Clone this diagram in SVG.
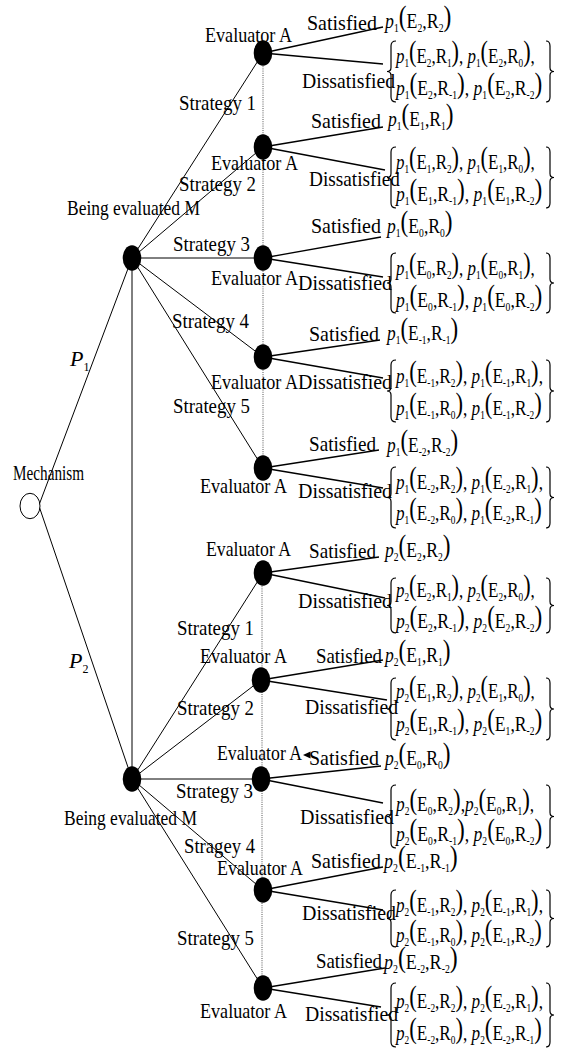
<svg xmlns="http://www.w3.org/2000/svg" width="567" height="1050" viewBox="0 0 567 1050">
<style>
  .lbl { font-family: "Liberation Serif", "Times New Roman", serif; font-size: 21px; fill: #000; }
  .f { font-family: "Liberation Serif", "Times New Roman", serif; font-size: 22px; fill: #000; }
  .v { font-style: italic; }
  .sb { font-size: 12px; }
  .pr { font-size: 29px; baseline-shift: 2px; }
  .edge { stroke: #000; stroke-width: 1.3; fill: none; }
  .strat { stroke: #000; stroke-width: 1; fill: none; }
  .info { stroke: #555; stroke-width: 1; stroke-dasharray: 1 1.2; fill: none; }
  .dot { fill: #000; }
  .chance { fill: #fff; stroke: #000; stroke-width: 1; }
  .brace { fill: none; stroke: #000; stroke-width: 1.2; }
</style>

<!-- connectors: chance branches, strategy branches, information sets, outcome branches -->
<g id="connectors">
  <line class="strat" x1="39" y1="505" x2="132" y2="258"/>
  <line class="strat" x1="39" y1="506" x2="132" y2="779"/>
  <line class="strat" x1="132" y1="258" x2="132" y2="779"/>

  <line class="strat" x1="132" y1="258" x2="263" y2="53"/>
  <line class="strat" x1="132" y1="258" x2="263" y2="147"/>
  <line class="strat" x1="132" y1="258" x2="263" y2="258"/>
  <line class="strat" x1="132" y1="258" x2="263" y2="357"/>
  <line class="strat" x1="132" y1="258" x2="263" y2="468"/>

  <line class="strat" x1="132" y1="779" x2="263" y2="573"/>
  <line class="strat" x1="132" y1="779" x2="261" y2="680"/>
  <line class="strat" x1="132" y1="779" x2="261" y2="779"/>
  <line class="strat" x1="132" y1="779" x2="263" y2="890"/>
  <line class="strat" x1="132" y1="779" x2="263" y2="988"/>

  <line class="info" x1="263" y1="53" x2="263" y2="468"/>
  <line class="info" x1="262" y1="573" x2="262" y2="988"/>

  <line class="edge" x1="263" y1="53" x2="383" y2="27"/>
  <line class="edge" x1="263" y1="53" x2="383" y2="64"/>
  <line class="edge" x1="263" y1="147" x2="383" y2="127"/>
  <line class="edge" x1="263" y1="147" x2="385" y2="170"/>
  <line class="edge" x1="263" y1="258" x2="381" y2="237"/>
  <line class="edge" x1="263" y1="258" x2="383" y2="277"/>
  <line class="edge" x1="263" y1="357" x2="380" y2="340"/>
  <line class="edge" x1="263" y1="357" x2="383" y2="378"/>
  <line class="edge" x1="263" y1="468" x2="379" y2="450"/>
  <line class="edge" x1="263" y1="468" x2="383" y2="488"/>

  <line class="edge" x1="263" y1="573" x2="379" y2="557"/>
  <line class="edge" x1="263" y1="573" x2="385" y2="598"/>
  <line class="edge" x1="261" y1="680" x2="383" y2="660"/>
  <line class="edge" x1="261" y1="680" x2="387" y2="700"/>
  <line class="edge" x1="261" y1="779" x2="381" y2="766"/>
  <line class="edge" x1="261" y1="779" x2="383" y2="803"/>
  <line class="edge" x1="263" y1="890" x2="383" y2="867"/>
  <line class="edge" x1="263" y1="890" x2="383" y2="910"/>
  <line class="edge" x1="263" y1="988" x2="385" y2="968"/>
  <line class="edge" x1="263" y1="988" x2="381" y2="1007"/>

  <polygon points="303,755 310.5,751.5 310.5,758.5" fill="#000"/>
</g>

<!-- branch labels -->
<g id="branch-labels" class="lbl">
  <text class="f" x="70" y="366"><tspan class="v">P</tspan><tspan class="sb" dy="5">1</tspan></text>
  <text class="f" x="69" y="668"><tspan class="v">P</tspan><tspan class="sb" dy="5">2</tspan></text>

  <text x="179" y="110" textLength="77" lengthAdjust="spacingAndGlyphs">Strategy 1</text>
  <text x="179" y="191" textLength="77" lengthAdjust="spacingAndGlyphs">Strategy 2</text>
  <text x="173" y="251" textLength="77" lengthAdjust="spacingAndGlyphs">Strategy 3</text>
  <text x="172" y="328" textLength="77" lengthAdjust="spacingAndGlyphs">Strategy 4</text>
  <text x="173" y="413" textLength="77" lengthAdjust="spacingAndGlyphs">Strategy 5</text>
  <text x="177" y="635" textLength="77" lengthAdjust="spacingAndGlyphs">Strategy 1</text>
  <text x="177" y="715" textLength="77" lengthAdjust="spacingAndGlyphs">Strategy 2</text>
  <text x="176" y="798" textLength="77" lengthAdjust="spacingAndGlyphs">Strategy 3</text>
  <text x="184" y="853" textLength="71" lengthAdjust="spacingAndGlyphs">Stragey 4</text>
  <text x="177" y="945" textLength="77" lengthAdjust="spacingAndGlyphs">Strategy 5</text>

  <text x="307" y="30" textLength="70" lengthAdjust="spacingAndGlyphs">Satisfied</text>
  <text x="302" y="88" textLength="93" lengthAdjust="spacingAndGlyphs">Dissatisfied</text>
  <text x="311" y="128" textLength="70" lengthAdjust="spacingAndGlyphs">Satisfied</text>
  <text x="309" y="186" textLength="91" lengthAdjust="spacingAndGlyphs">Dissatisfied</text>
  <text x="311" y="233" textLength="70" lengthAdjust="spacingAndGlyphs">Satisfied</text>
  <text x="298" y="290" textLength="94" lengthAdjust="spacingAndGlyphs">Dissatisfied</text>
  <text x="309" y="341" textLength="70" lengthAdjust="spacingAndGlyphs">Satisfied</text>
  <text x="298" y="389" textLength="94" lengthAdjust="spacingAndGlyphs">Dissatisfied</text>
  <text x="309" y="451" textLength="67" lengthAdjust="spacingAndGlyphs">Satisfied</text>
  <text x="298" y="498" textLength="94" lengthAdjust="spacingAndGlyphs">Dissatisfied</text>

  <text x="309" y="558" textLength="67" lengthAdjust="spacingAndGlyphs">Satisfied</text>
  <text x="298" y="608" textLength="94" lengthAdjust="spacingAndGlyphs">Dissatisfied</text>
  <text x="316" y="663" textLength="66" lengthAdjust="spacingAndGlyphs">Satisfied</text>
  <text x="305" y="714" textLength="93" lengthAdjust="spacingAndGlyphs">Dissatisfied</text>
  <text x="309" y="765" textLength="70" lengthAdjust="spacingAndGlyphs">Satisfied</text>
  <text x="300" y="824" textLength="94" lengthAdjust="spacingAndGlyphs">Dissatisfied</text>
  <text x="311" y="868" textLength="70" lengthAdjust="spacingAndGlyphs">Satisfied</text>
  <text x="302" y="920" textLength="94" lengthAdjust="spacingAndGlyphs">Dissatisfied</text>
  <text x="316" y="968" textLength="66" lengthAdjust="spacingAndGlyphs">Satisfied</text>
  <text x="305" y="1021" textLength="93" lengthAdjust="spacingAndGlyphs">Dissatisfied</text>
</g>

<!-- root chance node -->
<g id="mechanism">
  <ellipse class="chance" cx="30" cy="506" rx="10" ry="12.7"/>
  <text class="lbl" x="13" y="480" textLength="71" lengthAdjust="spacingAndGlyphs">Mechanism</text>
</g>

<!-- players being evaluated -->
<g id="evaluated-1">
  <ellipse class="dot" cx="132" cy="258" rx="9.3" ry="12.7"/>
  <text class="lbl" x="67" y="215" textLength="133" lengthAdjust="spacingAndGlyphs">Being evaluated M</text>
</g>
<g id="evaluated-2">
  <ellipse class="dot" cx="132" cy="779" rx="9.3" ry="12.7"/>
  <text class="lbl" x="64" y="825" textLength="133" lengthAdjust="spacingAndGlyphs">Being evaluated M</text>
</g>

<!-- evaluator decision nodes -->
<g id="evaluator-1-1"><ellipse class="dot" cx="263" cy="53" rx="9.3" ry="12.7"/><text class="lbl" x="205" y="42" textLength="87" lengthAdjust="spacingAndGlyphs">Evaluator A</text></g>
<g id="evaluator-1-2"><ellipse class="dot" cx="263" cy="147" rx="9.3" ry="12.7"/><text class="lbl" x="211" y="170" textLength="87" lengthAdjust="spacingAndGlyphs">Evaluator A</text></g>
<g id="evaluator-1-3"><ellipse class="dot" cx="263" cy="258" rx="9.3" ry="12.7"/><text class="lbl" x="211" y="285" textLength="87" lengthAdjust="spacingAndGlyphs">Evaluator A</text></g>
<g id="evaluator-1-4"><ellipse class="dot" cx="263" cy="357" rx="9.3" ry="12.7"/><text class="lbl" x="211" y="389" textLength="87" lengthAdjust="spacingAndGlyphs">Evaluator A</text></g>
<g id="evaluator-1-5"><ellipse class="dot" cx="263" cy="468" rx="9.3" ry="12.7"/><text class="lbl" x="200" y="493" textLength="87" lengthAdjust="spacingAndGlyphs">Evaluator A</text></g>
<g id="evaluator-2-1"><ellipse class="dot" cx="263" cy="573" rx="9.3" ry="12.7"/><text class="lbl" x="206" y="556" textLength="85" lengthAdjust="spacingAndGlyphs">Evaluator A</text></g>
<g id="evaluator-2-2"><ellipse class="dot" cx="261" cy="680" rx="9.3" ry="12.7"/><text class="lbl" x="200" y="663" textLength="87" lengthAdjust="spacingAndGlyphs">Evaluator A</text></g>
<g id="evaluator-2-3"><ellipse class="dot" cx="261" cy="779" rx="9.3" ry="12.7"/><text class="lbl" x="217" y="760" textLength="85" lengthAdjust="spacingAndGlyphs">Evaluator A</text></g>
<g id="evaluator-2-4"><ellipse class="dot" cx="263" cy="890" rx="9.3" ry="12.7"/><text class="lbl" x="217" y="875" textLength="86" lengthAdjust="spacingAndGlyphs">Evaluator A</text></g>
<g id="evaluator-2-5"><ellipse class="dot" cx="263" cy="988" rx="9.3" ry="12.7"/><text class="lbl" x="200" y="1018" textLength="87" lengthAdjust="spacingAndGlyphs">Evaluator A</text></g>

<!-- payoff outcomes: satisfied (narrowed with a horizontal scale) -->
<g id="outcome-sat" class="f">
  <text transform="translate(385 28) scale(0.81 1)"><tspan class="v">p</tspan><tspan class="sb" dy="4">1</tspan><tspan class="pr" dy="-4">(</tspan>E<tspan class="sb" dy="4">2</tspan><tspan dy="-4">,R</tspan><tspan class="sb" dy="4">2</tspan><tspan class="pr" dy="-4">)</tspan></text>
  <text transform="translate(388 126) scale(0.8 1)"><tspan class="v">p</tspan><tspan class="sb" dy="4">1</tspan><tspan class="pr" dy="-4">(</tspan>E<tspan class="sb" dy="4">1</tspan><tspan dy="-4">,R</tspan><tspan class="sb" dy="4">1</tspan><tspan class="pr" dy="-4">)</tspan></text>
  <text transform="translate(387 233) scale(0.8 1)"><tspan class="v">p</tspan><tspan class="sb" dy="4">1</tspan><tspan class="pr" dy="-4">(</tspan>E<tspan class="sb" dy="4">0</tspan><tspan dy="-4">,R</tspan><tspan class="sb" dy="4">0</tspan><tspan class="pr" dy="-4">)</tspan></text>
  <text transform="translate(387 340) scale(0.79 1)"><tspan class="v">p</tspan><tspan class="sb" dy="4">1</tspan><tspan class="pr" dy="-4">(</tspan>E<tspan class="sb" dy="4">-1</tspan><tspan dy="-4">,R</tspan><tspan class="sb" dy="4">-1</tspan><tspan class="pr" dy="-4">)</tspan></text>
  <text transform="translate(387 452) scale(0.79 1)"><tspan class="v">p</tspan><tspan class="sb" dy="4">1</tspan><tspan class="pr" dy="-4">(</tspan>E<tspan class="sb" dy="4">-2</tspan><tspan dy="-4">,R</tspan><tspan class="sb" dy="4">-2</tspan><tspan class="pr" dy="-4">)</tspan></text>
  <text transform="translate(385 557) scale(0.8 1)"><tspan class="v">p</tspan><tspan class="sb" dy="4">2</tspan><tspan class="pr" dy="-4">(</tspan>E<tspan class="sb" dy="4">2</tspan><tspan dy="-4">,R</tspan><tspan class="sb" dy="4">2</tspan><tspan class="pr" dy="-4">)</tspan></text>
  <text transform="translate(385 662) scale(0.8 1)"><tspan class="v">p</tspan><tspan class="sb" dy="4">2</tspan><tspan class="pr" dy="-4">(</tspan>E<tspan class="sb" dy="4">1</tspan><tspan dy="-4">,R</tspan><tspan class="sb" dy="4">1</tspan><tspan class="pr" dy="-4">)</tspan></text>
  <text transform="translate(385 765) scale(0.8 1)"><tspan class="v">p</tspan><tspan class="sb" dy="4">2</tspan><tspan class="pr" dy="-4">(</tspan>E<tspan class="sb" dy="4">0</tspan><tspan dy="-4">,R</tspan><tspan class="sb" dy="4">0</tspan><tspan class="pr" dy="-4">)</tspan></text>
  <text transform="translate(384 868) scale(0.82 1)"><tspan class="v">p</tspan><tspan class="sb" dy="4">2</tspan><tspan class="pr" dy="-4">(</tspan>E<tspan class="sb" dy="4">-1</tspan><tspan dy="-4">,R</tspan><tspan class="sb" dy="4">-1</tspan><tspan class="pr" dy="-4">)</tspan></text>
  <text transform="translate(384 969) scale(0.82 1)"><tspan class="v">p</tspan><tspan class="sb" dy="4">2</tspan><tspan class="pr" dy="-4">(</tspan>E<tspan class="sb" dy="4">-2</tspan><tspan dy="-4">,R</tspan><tspan class="sb" dy="4">-2</tspan><tspan class="pr" dy="-4">)</tspan></text>
</g>

<!-- payoff outcomes: dissatisfied (braced sets) -->
<g id="outcome-dis" class="f">
  <path class="brace" d="M396 41 Q391 41 391 46 L391 67.5 Q391 71.5 387 71.5 Q391 71.5 391 75.5 L391 97 Q391 102 396 102 M546 41 Q550 41 550 46 L550 67.5 Q550 71.5 554 71.5 Q550 71.5 550 75.5 L550 97 Q550 102 546 102"/>
  <text transform="translate(396 63) scale(0.77 1)"><tspan class="v">p</tspan><tspan class="sb" dy="4">1</tspan><tspan class="pr" dy="-4">(</tspan>E<tspan class="sb" dy="4">2</tspan><tspan dy="-4">,R</tspan><tspan class="sb" dy="4">1</tspan><tspan class="pr" dy="-4">)</tspan>, <tspan class="v">p</tspan><tspan class="sb" dy="4">1</tspan><tspan class="pr" dy="-4">(</tspan>E<tspan class="sb" dy="4">2</tspan><tspan dy="-4">,R</tspan><tspan class="sb" dy="4">0</tspan><tspan class="pr" dy="-4">)</tspan>,</text>
  <text transform="translate(396 95) scale(0.8 1)"><tspan class="v">p</tspan><tspan class="sb" dy="4">1</tspan><tspan class="pr" dy="-4">(</tspan>E<tspan class="sb" dy="4">2</tspan><tspan dy="-4">,R</tspan><tspan class="sb" dy="4">-1</tspan><tspan class="pr" dy="-4">)</tspan>, <tspan class="v">p</tspan><tspan class="sb" dy="4">1</tspan><tspan class="pr" dy="-4">(</tspan>E<tspan class="sb" dy="4">2</tspan><tspan dy="-4">,R</tspan><tspan class="sb" dy="4">-2</tspan><tspan class="pr" dy="-4">)</tspan></text>

  <path class="brace" d="M396 147 Q391 147 391 152 L391 173.5 Q391 177.5 387 177.5 Q391 177.5 391 181.5 L391 203 Q391 208 396 208 M546 147 Q550 147 550 152 L550 173.5 Q550 177.5 554 177.5 Q550 177.5 550 181.5 L550 203 Q550 208 546 208"/>
  <text transform="translate(396 169) scale(0.77 1)"><tspan class="v">p</tspan><tspan class="sb" dy="4">1</tspan><tspan class="pr" dy="-4">(</tspan>E<tspan class="sb" dy="4">1</tspan><tspan dy="-4">,R</tspan><tspan class="sb" dy="4">2</tspan><tspan class="pr" dy="-4">)</tspan>, <tspan class="v">p</tspan><tspan class="sb" dy="4">1</tspan><tspan class="pr" dy="-4">(</tspan>E<tspan class="sb" dy="4">1</tspan><tspan dy="-4">,R</tspan><tspan class="sb" dy="4">0</tspan><tspan class="pr" dy="-4">)</tspan>,</text>
  <text transform="translate(396 201) scale(0.8 1)"><tspan class="v">p</tspan><tspan class="sb" dy="4">1</tspan><tspan class="pr" dy="-4">(</tspan>E<tspan class="sb" dy="4">1</tspan><tspan dy="-4">,R</tspan><tspan class="sb" dy="4">-1</tspan><tspan class="pr" dy="-4">)</tspan>, <tspan class="v">p</tspan><tspan class="sb" dy="4">1</tspan><tspan class="pr" dy="-4">(</tspan>E<tspan class="sb" dy="4">1</tspan><tspan dy="-4">,R</tspan><tspan class="sb" dy="4">-2</tspan><tspan class="pr" dy="-4">)</tspan></text>

  <path class="brace" d="M396 253 Q391 253 391 258 L391 279 Q391 283 387 283 Q391 283 391 287 L391 308 Q391 313 396 313 M546 253 Q550 253 550 258 L550 279 Q550 283 554 283 Q550 283 550 287 L550 308 Q550 313 546 313"/>
  <text transform="translate(396 275) scale(0.77 1)"><tspan class="v">p</tspan><tspan class="sb" dy="4">1</tspan><tspan class="pr" dy="-4">(</tspan>E<tspan class="sb" dy="4">0</tspan><tspan dy="-4">,R</tspan><tspan class="sb" dy="4">2</tspan><tspan class="pr" dy="-4">)</tspan>, <tspan class="v">p</tspan><tspan class="sb" dy="4">1</tspan><tspan class="pr" dy="-4">(</tspan>E<tspan class="sb" dy="4">0</tspan><tspan dy="-4">,R</tspan><tspan class="sb" dy="4">1</tspan><tspan class="pr" dy="-4">)</tspan>,</text>
  <text transform="translate(396 307) scale(0.8 1)"><tspan class="v">p</tspan><tspan class="sb" dy="4">1</tspan><tspan class="pr" dy="-4">(</tspan>E<tspan class="sb" dy="4">0</tspan><tspan dy="-4">,R</tspan><tspan class="sb" dy="4">-1</tspan><tspan class="pr" dy="-4">)</tspan>, <tspan class="v">p</tspan><tspan class="sb" dy="4">1</tspan><tspan class="pr" dy="-4">(</tspan>E<tspan class="sb" dy="4">0</tspan><tspan dy="-4">,R</tspan><tspan class="sb" dy="4">-2</tspan><tspan class="pr" dy="-4">)</tspan></text>

  <path class="brace" d="M396 360 Q391 360 391 365 L391 387 Q391 391 387 391 Q391 391 391 395 L391 417 Q391 422 396 422 M546 360 Q550 360 550 365 L550 387 Q550 391 554 391 Q550 391 550 395 L550 417 Q550 422 546 422"/>
  <text transform="translate(396 383) scale(0.78 1)"><tspan class="v">p</tspan><tspan class="sb" dy="4">1</tspan><tspan class="pr" dy="-4">(</tspan>E<tspan class="sb" dy="4">-1</tspan><tspan dy="-4">,R</tspan><tspan class="sb" dy="4">2</tspan><tspan class="pr" dy="-4">)</tspan>, <tspan class="v">p</tspan><tspan class="sb" dy="4">1</tspan><tspan class="pr" dy="-4">(</tspan>E<tspan class="sb" dy="4">-1</tspan><tspan dy="-4">,R</tspan><tspan class="sb" dy="4">1</tspan><tspan class="pr" dy="-4">)</tspan>,</text>
  <text transform="translate(396 415) scale(0.78 1)"><tspan class="v">p</tspan><tspan class="sb" dy="4">1</tspan><tspan class="pr" dy="-4">(</tspan>E<tspan class="sb" dy="4">-1</tspan><tspan dy="-4">,R</tspan><tspan class="sb" dy="4">0</tspan><tspan class="pr" dy="-4">)</tspan>, <tspan class="v">p</tspan><tspan class="sb" dy="4">1</tspan><tspan class="pr" dy="-4">(</tspan>E<tspan class="sb" dy="4">-1</tspan><tspan dy="-4">,R</tspan><tspan class="sb" dy="4">-2</tspan><tspan class="pr" dy="-4">)</tspan></text>

  <path class="brace" d="M396 467 Q391 467 391 472 L391 493.5 Q391 497.5 387 497.5 Q391 497.5 391 501.5 L391 523 Q391 528 396 528 M546 467 Q550 467 550 472 L550 493.5 Q550 497.5 554 497.5 Q550 497.5 550 501.5 L550 523 Q550 528 546 528"/>
  <text transform="translate(396 489) scale(0.78 1)"><tspan class="v">p</tspan><tspan class="sb" dy="4">1</tspan><tspan class="pr" dy="-4">(</tspan>E<tspan class="sb" dy="4">-2</tspan><tspan dy="-4">,R</tspan><tspan class="sb" dy="4">2</tspan><tspan class="pr" dy="-4">)</tspan>, <tspan class="v">p</tspan><tspan class="sb" dy="4">1</tspan><tspan class="pr" dy="-4">(</tspan>E<tspan class="sb" dy="4">-2</tspan><tspan dy="-4">,R</tspan><tspan class="sb" dy="4">1</tspan><tspan class="pr" dy="-4">)</tspan>,</text>
  <text transform="translate(396 520) scale(0.78 1)"><tspan class="v">p</tspan><tspan class="sb" dy="4">1</tspan><tspan class="pr" dy="-4">(</tspan>E<tspan class="sb" dy="4">-2</tspan><tspan dy="-4">,R</tspan><tspan class="sb" dy="4">0</tspan><tspan class="pr" dy="-4">)</tspan>, <tspan class="v">p</tspan><tspan class="sb" dy="4">1</tspan><tspan class="pr" dy="-4">(</tspan>E<tspan class="sb" dy="4">-2</tspan><tspan dy="-4">,R</tspan><tspan class="sb" dy="4">-1</tspan><tspan class="pr" dy="-4">)</tspan></text>

  <path class="brace" d="M396 578 Q391 578 391 583 L391 601.5 Q391 605.5 387 605.5 Q391 605.5 391 609.5 L391 628 Q391 633 396 633 M546 578 Q550 578 550 583 L550 601.5 Q550 605.5 554 605.5 Q550 605.5 550 609.5 L550 628 Q550 633 546 633"/>
  <text transform="translate(396 597) scale(0.77 1)"><tspan class="v">p</tspan><tspan class="sb" dy="4">2</tspan><tspan class="pr" dy="-4">(</tspan>E<tspan class="sb" dy="4">2</tspan><tspan dy="-4">,R</tspan><tspan class="sb" dy="4">1</tspan><tspan class="pr" dy="-4">)</tspan>, <tspan class="v">p</tspan><tspan class="sb" dy="4">2</tspan><tspan class="pr" dy="-4">(</tspan>E<tspan class="sb" dy="4">2</tspan><tspan dy="-4">,R</tspan><tspan class="sb" dy="4">0</tspan><tspan class="pr" dy="-4">)</tspan>,</text>
  <text transform="translate(396 628) scale(0.8 1)"><tspan class="v">p</tspan><tspan class="sb" dy="4">2</tspan><tspan class="pr" dy="-4">(</tspan>E<tspan class="sb" dy="4">2</tspan><tspan dy="-4">,R</tspan><tspan class="sb" dy="4">-1</tspan><tspan class="pr" dy="-4">)</tspan>, <tspan class="v">p</tspan><tspan class="sb" dy="4">2</tspan><tspan class="pr" dy="-4">(</tspan>E<tspan class="sb" dy="4">2</tspan><tspan dy="-4">,R</tspan><tspan class="sb" dy="4">-2</tspan><tspan class="pr" dy="-4">)</tspan></text>

  <path class="brace" d="M396 678 Q391 678 391 683 L391 705 Q391 709 387 709 Q391 709 391 713 L391 735 Q391 740 396 740 M546 678 Q550 678 550 683 L550 705 Q550 709 554 709 Q550 709 550 713 L550 735 Q550 740 546 740"/>
  <text transform="translate(396 698) scale(0.77 1)"><tspan class="v">p</tspan><tspan class="sb" dy="4">2</tspan><tspan class="pr" dy="-4">(</tspan>E<tspan class="sb" dy="4">1</tspan><tspan dy="-4">,R</tspan><tspan class="sb" dy="4">2</tspan><tspan class="pr" dy="-4">)</tspan>, <tspan class="v">p</tspan><tspan class="sb" dy="4">2</tspan><tspan class="pr" dy="-4">(</tspan>E<tspan class="sb" dy="4">1</tspan><tspan dy="-4">,R</tspan><tspan class="sb" dy="4">0</tspan><tspan class="pr" dy="-4">)</tspan>,</text>
  <text transform="translate(396 731) scale(0.8 1)"><tspan class="v">p</tspan><tspan class="sb" dy="4">2</tspan><tspan class="pr" dy="-4">(</tspan>E<tspan class="sb" dy="4">1</tspan><tspan dy="-4">,R</tspan><tspan class="sb" dy="4">-1</tspan><tspan class="pr" dy="-4">)</tspan>, <tspan class="v">p</tspan><tspan class="sb" dy="4">2</tspan><tspan class="pr" dy="-4">(</tspan>E<tspan class="sb" dy="4">1</tspan><tspan dy="-4">,R</tspan><tspan class="sb" dy="4">-2</tspan><tspan class="pr" dy="-4">)</tspan></text>

  <path class="brace" d="M396 785 Q391 785 391 790 L391 812.5 Q391 816.5 387 816.5 Q391 816.5 391 820.5 L391 843 Q391 848 396 848 M546 785 Q550 785 550 790 L550 812.5 Q550 816.5 554 816.5 Q550 816.5 550 820.5 L550 843 Q550 848 546 848"/>
  <text transform="translate(396 811) scale(0.79 1)"><tspan class="v">p</tspan><tspan class="sb" dy="4">2</tspan><tspan class="pr" dy="-4">(</tspan>E<tspan class="sb" dy="4">0</tspan><tspan dy="-4">,R</tspan><tspan class="sb" dy="4">2</tspan><tspan class="pr" dy="-4">)</tspan>,<tspan class="v">p</tspan><tspan class="sb" dy="4">2</tspan><tspan class="pr" dy="-4">(</tspan>E<tspan class="sb" dy="4">0</tspan><tspan dy="-4">,R</tspan><tspan class="sb" dy="4">1</tspan><tspan class="pr" dy="-4">)</tspan>,</text>
  <text transform="translate(396 841) scale(0.8 1)"><tspan class="v">p</tspan><tspan class="sb" dy="4">2</tspan><tspan class="pr" dy="-4">(</tspan>E<tspan class="sb" dy="4">0</tspan><tspan dy="-4">,R</tspan><tspan class="sb" dy="4">-1</tspan><tspan class="pr" dy="-4">)</tspan>, <tspan class="v">p</tspan><tspan class="sb" dy="4">2</tspan><tspan class="pr" dy="-4">(</tspan>E<tspan class="sb" dy="4">0</tspan><tspan dy="-4">,R</tspan><tspan class="sb" dy="4">-2</tspan><tspan class="pr" dy="-4">)</tspan></text>

  <path class="brace" d="M396 890 Q391 890 391 895 L391 914.5 Q391 918.5 387 918.5 Q391 918.5 391 922.5 L391 942 Q391 947 396 947 M546 890 Q550 890 550 895 L550 914.5 Q550 918.5 554 918.5 Q550 918.5 550 922.5 L550 942 Q550 947 546 947"/>
  <text transform="translate(396 912) scale(0.78 1)"><tspan class="v">p</tspan><tspan class="sb" dy="4">2</tspan><tspan class="pr" dy="-4">(</tspan>E<tspan class="sb" dy="4">-1</tspan><tspan dy="-4">,R</tspan><tspan class="sb" dy="4">2</tspan><tspan class="pr" dy="-4">)</tspan>, <tspan class="v">p</tspan><tspan class="sb" dy="4">2</tspan><tspan class="pr" dy="-4">(</tspan>E<tspan class="sb" dy="4">-1</tspan><tspan dy="-4">,R</tspan><tspan class="sb" dy="4">1</tspan><tspan class="pr" dy="-4">)</tspan>,</text>
  <text transform="translate(396 942) scale(0.78 1)"><tspan class="v">p</tspan><tspan class="sb" dy="4">2</tspan><tspan class="pr" dy="-4">(</tspan>E<tspan class="sb" dy="4">-1</tspan><tspan dy="-4">,R</tspan><tspan class="sb" dy="4">0</tspan><tspan class="pr" dy="-4">)</tspan>, <tspan class="v">p</tspan><tspan class="sb" dy="4">2</tspan><tspan class="pr" dy="-4">(</tspan>E<tspan class="sb" dy="4">-1</tspan><tspan dy="-4">,R</tspan><tspan class="sb" dy="4">-2</tspan><tspan class="pr" dy="-4">)</tspan></text>

  <path class="brace" d="M396 983 Q391 983 391 988 L391 1011 Q391 1015 387 1015 Q391 1015 391 1019 L391 1042 Q391 1047 396 1047 M546 983 Q550 983 550 988 L550 1011 Q550 1015 554 1015 Q550 1015 550 1019 L550 1042 Q550 1047 546 1047"/>
  <text transform="translate(396 1008) scale(0.78 1)"><tspan class="v">p</tspan><tspan class="sb" dy="4">2</tspan><tspan class="pr" dy="-4">(</tspan>E<tspan class="sb" dy="4">-2</tspan><tspan dy="-4">,R</tspan><tspan class="sb" dy="4">2</tspan><tspan class="pr" dy="-4">)</tspan>, <tspan class="v">p</tspan><tspan class="sb" dy="4">2</tspan><tspan class="pr" dy="-4">(</tspan>E<tspan class="sb" dy="4">-2</tspan><tspan dy="-4">,R</tspan><tspan class="sb" dy="4">1</tspan><tspan class="pr" dy="-4">)</tspan>,</text>
  <text transform="translate(396 1040) scale(0.78 1)"><tspan class="v">p</tspan><tspan class="sb" dy="4">2</tspan><tspan class="pr" dy="-4">(</tspan>E<tspan class="sb" dy="4">-2</tspan><tspan dy="-4">,R</tspan><tspan class="sb" dy="4">0</tspan><tspan class="pr" dy="-4">)</tspan>, <tspan class="v">p</tspan><tspan class="sb" dy="4">2</tspan><tspan class="pr" dy="-4">(</tspan>E<tspan class="sb" dy="4">-2</tspan><tspan dy="-4">,R</tspan><tspan class="sb" dy="4">-1</tspan><tspan class="pr" dy="-4">)</tspan></text>
</g>
</svg>
